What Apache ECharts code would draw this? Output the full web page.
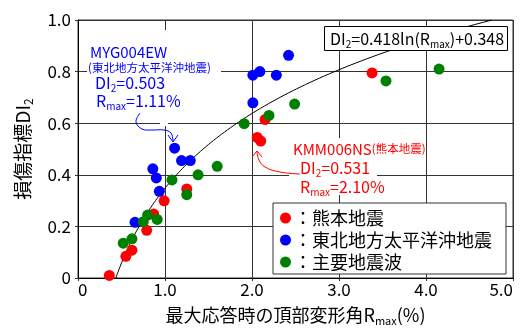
<!DOCTYPE html>
<html>
<head>
<meta charset="utf-8">
<script src="https://cdn.jsdelivr.net/npm/echarts@6/dist/echarts.min.js"></script>
<style>
  html, body { margin: 0; padding: 0; background: #fff; }
  #chart { width: 521px; height: 331px; }
</style>
</head>
<body>
<div id="chart"></div>
<script>
// Damage index DI2 versus peak roof drift angle Rmax (%)
const kumamoto = [[0.36, 0.01], [0.55, 0.084], [0.62, 0.108], [0.79, 0.185], [0.87, 0.248],
  [0.99, 0.299], [1.25, 0.345], [2.06, 0.545], [2.10, 0.531], [2.15, 0.614], [3.38, 0.795]];
const tohoku = [[0.655, 0.216], [0.86, 0.423], [0.90, 0.388], [0.935, 0.336], [1.11, 0.503],
  [1.19, 0.455], [1.29, 0.455], [1.40, 0.697], [1.50, 0.670], [2.01, 0.679], [2.01, 0.786],
  [2.09, 0.80], [2.28, 0.786], [2.42, 0.863]];
const majorWaves = [[0.52, 0.135], [0.62, 0.152], [0.75, 0.218], [0.80, 0.244], [0.91, 0.227],
  [1.08, 0.38], [1.25, 0.323], [1.38, 0.40], [1.60, 0.433], [1.91, 0.598], [2.195, 0.63],
  [2.49, 0.674], [3.54, 0.764], [4.15, 0.81]];

const seriesNames = ['熊本地震', '東北地方太平洋沖地震', '主要地震波'];
const xTickLabels = ['0', '1.0', '2.0', '3.0', '4.0', '5.0'];
const yTickLabels = ['0', '0.2', '0.4', '0.6', '0.8', '1.0'];

// Fitted relation DI2 = a ln(Rmax) + b
const fitA = 0.418;
const fitB = 0.348;

// Highlighted records
const mygPoint = [1.11, 0.503];
const kmmPoint = [2.10, 0.531];

const FONT = '"Noto Sans CJK JP", "Noto Sans", sans-serif';
const RED = '#ff0000', BLUE = '#0000ff', GREEN = '#008000';

// Fitted curve sampled on a log-spaced grid between DI2 = 0 and DI2 = 1
const fitCurve = [];
{
  const r0 = Math.exp(-fitB / fitA);
  const r1 = Math.exp((1 - fitB) / fitA);
  const n = 120;
  for (let i = 0; i <= n; i++) {
    const r = r0 * Math.pow(r1 / r0, i / n);
    fitCurve.push([r, fitA * Math.log(r) + fitB]);
  }
}

const subStyle = (size, color, lh) => ({
  fontSize: size, fontFamily: FONT, fill: color, verticalAlign: 'bottom', lineHeight: lh
});

function richText(x, y, text, size, color, subSize) {
  return {
    type: 'text', x: x, y: y, z: 20,
    style: {
      text: text, fontSize: size, fontFamily: FONT, fill: color,
      align: 'left', verticalAlign: 'middle', lineHeight: size + 4,
      rich: {
        s: subStyle(subSize, color, size + 4),
        t: { fontSize: subSize, fontFamily: FONT, fill: color, lineHeight: size + 4 }
      }
    }
  };
}

// leader arrow drawn as a smoothed polyline
function leader(points, color) {
  return {
    type: 'polyline', z: 30,
    shape: { points: points, smooth: 0.4 },
    style: { stroke: color, lineWidth: 1, fill: null }
  };
}
function head(points, color) {
  return {
    type: 'polyline', z: 30,
    shape: { points: points },
    style: { stroke: color, lineWidth: 1, fill: null }
  };
}

const chart = echarts.init(document.getElementById('chart'));

const option = {
  animation: false,
  textStyle: { fontFamily: FONT },
  grid: {
    left: 78, right: 8, top: 20, bottom: 47,
    show: true, borderColor: '#333', borderWidth: 1, backgroundColor: '#fff'
  },
  legend: {
    orient: 'vertical',
    left: 273, top: 203,
    padding: [6, 14, 3, 7],
    itemGap: 4,
    itemWidth: 11, itemHeight: 11,
    icon: 'circle',
    backgroundColor: '#fff',
    borderColor: '#333', borderWidth: 1,
    formatter: '：{name}',
    textStyle: { fontSize: 18, fontFamily: FONT, color: '#000', padding: [0, 0, 0, -2] },
    data: seriesNames,
    z: 20
  },
  xAxis: {
    type: 'value', min: 0, max: 5, interval: 1,
    axisLine: { show: true, lineStyle: { color: '#000', width: 1 } },
    axisTick: { show: true, length: 3, lineStyle: { color: '#333' } },
    splitLine: { show: true, lineStyle: { color: '#333', width: 1 } },
    axisLabel: {
      margin: 3, fontSize: 17, color: '#000', fontFamily: FONT,
      alignMinLabel: 'left', alignMaxLabel: 'right',
      formatter: (v) => xTickLabels[Math.round(v)]
    },
    name: '最大応答時の頂部変形角R{s|max}(%)',
    nameLocation: 'middle', nameGap: 26,
    nameTextStyle: {
      fontSize: 18, color: '#000', fontFamily: FONT, lineHeight: 22,
      rich: { s: { fontSize: 11, fontFamily: FONT, color: '#000', verticalAlign: 'bottom', lineHeight: 22 } }
    }
  },
  yAxis: {
    type: 'value', min: 0, max: 1, interval: 0.2,
    axisLine: { show: true, lineStyle: { color: '#000', width: 1 } },
    axisTick: { show: true, length: 3, lineStyle: { color: '#333' } },
    splitLine: { show: true, lineStyle: { color: '#333', width: 1 } },
    axisLabel: {
      margin: 7, fontSize: 17, color: '#000', fontFamily: FONT,
      formatter: (v) => yTickLabels[Math.round(v * 5)]
    },
    name: '損傷指標DI{s|2}',
    nameLocation: 'middle', nameGap: 44, nameRotate: 90,
    nameTextStyle: {
      fontSize: 19, color: '#000', fontFamily: FONT, lineHeight: 23,
      rich: { s: { fontSize: 12, fontFamily: FONT, color: '#000', verticalAlign: 'bottom', lineHeight: 23 } }
    }
  },
  series: [
    {
      type: 'line', data: fitCurve, showSymbol: false, silent: true,
      lineStyle: { color: '#000', width: 1 }, z: 2
    },
    {
      name: seriesNames[0], type: 'scatter', data: kumamoto,
      symbolSize: 11, itemStyle: { color: RED, opacity: 1 }, z: 3
    },
    {
      name: seriesNames[1], type: 'scatter', data: tohoku,
      symbolSize: 11, itemStyle: { color: BLUE, opacity: 1 }, z: 4
    },
    {
      name: seriesNames[2], type: 'scatter', data: majorWaves,
      symbolSize: 11, itemStyle: { color: GREEN, opacity: 1 }, z: 5
    }
  ],
  graphic: [
    // white backings behind the notes
    { type: 'rect', z: 15, shape: { x: 87, y: 30, width: 134, height: 82 }, style: { fill: '#fff' } },
    { type: 'rect', z: 15, shape: { x: 160, y: 112, width: 8, height: 14 }, style: { fill: '#fff' } },
    { type: 'rect', z: 15, shape: { x: 289, y: 138, width: 131, height: 20 }, style: { fill: '#fff' } },
    { type: 'rect', z: 15, shape: { x: 289, y: 158, width: 88, height: 37 }, style: { fill: '#fff' } },
    { type: 'rect', z: 15, shape: { x: 324.5, y: 26.5, width: 183, height: 24 }, style: { fill: '#fff', stroke: '#000', lineWidth: 1 } },

    richText(90, 52, 'MYG004EW', 15, BLUE, 11),
    richText(88, 68, '(東北地方太平洋沖地震)', 11.5, BLUE, 11),
    richText(95, 83, `DI{s|2}=${mygPoint[1].toFixed(3)}`, 16, BLUE, 10),
    richText(96, 101, `R{s|max}=${mygPoint[0].toFixed(2)}%`, 16, BLUE, 10),

    richText(293, 149, 'KMM006NS{t|(熊本地震)}', 15, RED, 11.5),
    richText(300, 168, `DI{s|2}=${kmmPoint[1].toFixed(3)}`, 16, RED, 10),
    richText(300, 187, `R{s|max}=${kmmPoint[0].toFixed(2)}%`, 16, RED, 10),

    richText(330, 39, `DI{s|2}=${fitA.toFixed(3)}ln(R{s|max})+${fitB.toFixed(3)}`, 16, '#000', 10),

    leader([[140, 113], [136, 122], [142, 129], [152, 130], [164, 130], [171, 133], [173, 141]], BLUE),
    head([[168, 135], [173, 142], [178, 135]], BLUE),
    leader([[300, 174], [280, 172], [265, 167], [259, 160], [257, 152]], RED),
    head([[252, 157], [257, 151], [262, 157]], RED)
  ]
};

chart.setOption(option);
</script>
</body>
</html>
